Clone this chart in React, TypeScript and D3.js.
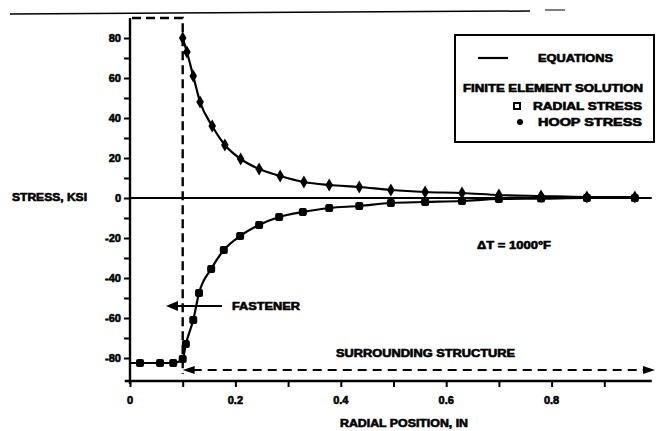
import { useEffect, useRef } from "react";
import * as d3 from "d3";

// finite element solution
const hoopX = [0.1, 0.108, 0.12, 0.133, 0.156, 0.18, 0.21, 0.245, 0.285, 0.33, 0.378, 0.435, 0.495, 0.56, 0.63, 0.7, 0.78, 0.867, 0.958];
const hoopY = [80, 73, 61, 48, 36, 26.5, 19.5, 14.5, 11, 8, 6.5, 5.5, 4, 3, 2.5, 1.5, 1, 0.5, 0.5];
const radialX = [0.019, 0.057, 0.082, 0.1, 0.106, 0.12, 0.131, 0.154, 0.178, 0.209, 0.245, 0.283, 0.328, 0.378, 0.435, 0.495, 0.56, 0.63, 0.7, 0.78, 0.867, 0.958];
const radialY = [-82.5, -82.5, -82.5, -80.5, -73, -61, -47.5, -35.5, -26, -19, -13.5, -9.5, -7, -5, -4, -2.5, -2, -1.5, -0.5, -0.3, 0, 0];
// equation line continues inside the fastener
const radialInnerX = [0];
const radialInnerY = [-82.5];

const yTicks = [-80, -70, -60, -50, -40, -30, -20, -10, 0, 10, 20, 30, 40, 50, 60, 70, 80];
const yLabels = [-80, -60, -40, -20, 0, 20, 40, 60, 80];
const xTicks = [0, 0.1, 0.2, 0.3, 0.4, 0.5, 0.6, 0.7, 0.8, 0.9];
const xLabels = ["0", "0.2", "0.4", "0.6", "0.8"];
const fastenerEdge = 0.1;

const FONT = "'Liberation Sans', Arial, sans-serif";

export default function App() {
  const ref = useRef<SVGSVGElement>(null);

  useEffect(() => {
    const svg = d3.select(ref.current);
    svg.selectAll("*").remove();

    const width = 657;
    const height = 431;

    const x = d3.scaleLinear().domain([0, 1]).range([130, 657]);
    const y = d3.scaleLinear().domain([-91.5, 90]).range([381, 18]);

    const ink = "#000";

    // scan border line at the top
    svg.append("line").attr("x1", 10).attr("y1", 14).attr("x2", 530).attr("y2", 11)
      .attr("stroke", ink).attr("stroke-width", 1.5);
    svg.append("line").attr("x1", 545).attr("y1", 10).attr("x2", 565).attr("y2", 10)
      .attr("stroke", ink).attr("stroke-width", 1);

    // y axis
    const yAxis = svg.append("g").attr("transform", `translate(${x(0)},0)`)
      .call(d3.axisLeft(y).tickValues(yTicks).tickSize(6).tickFormat(() => ""));
    yAxis.select(".domain").attr("d", `M0,${y(90)}V${y(-93)}`).attr("stroke-width", 2.4);
    yAxis.selectAll(".tick line").attr("stroke-width", 2);
    yLabels.forEach((v) => {
      svg.append("text").attr("x", 121).attr("y", y(v)).attr("dy", "0.36em")
        .attr("text-anchor", "end").attr("font-family", FONT).attr("font-weight", "bold")
        .attr("font-size", 11).attr("stroke", ink).attr("stroke-width", 0.6).text(String(v));
    });

    // x axis
    const xAxis = svg.append("g").attr("transform", `translate(0,${y(-91.5)})`)
      .call(d3.axisBottom(x).tickValues(xTicks).tickSize(6).tickFormat(() => ""));
    xAxis.select(".domain").attr("d", `M${x(-0.01)},0H${x(0.99)}`).attr("stroke-width", 2.4);
    xAxis.selectAll(".tick line").attr("stroke-width", 2);
    xLabels.forEach((l) => {
      svg.append("text").attr("x", x(+l)).attr("y", 400).attr("dy", "0.36em")
        .attr("text-anchor", "middle").attr("font-family", FONT).attr("font-weight", "bold")
        .attr("font-size", 11).attr("stroke", ink).attr("stroke-width", 0.6).text(l);
    });

    // zero line
    svg.append("line").attr("x1", x(0)).attr("x2", x(0.99)).attr("y1", y(0)).attr("y2", y(0))
      .attr("stroke", ink).attr("stroke-width", 2.2);

    // fastener dashed boundary
    svg.append("path")
      .attr("d", `M${x(0) + 2},${y(90)}H${x(fastenerEdge)}V${y(-88)}`)
      .attr("fill", "none").attr("stroke", ink).attr("stroke-width", 2.4)
      .attr("stroke-dasharray", "9,5");

    // equation curves
    const line = d3.line<[number, number]>().x((d) => x(d[0])).y((d) => y(d[1]))
      .curve(d3.curveMonotoneX);
    const hoop: [number, number][] = hoopX.map((v, i) => [v, hoopY[i]]);
    const radial: [number, number][] = radialX.map((v, i) => [v, radialY[i]]);
    const radialLine: [number, number][] = [
      ...radialInnerX.map((v, i) => [v, radialInnerY[i]] as [number, number]),
      ...radial,
    ];
    svg.append("path").attr("d", line(hoop)).attr("fill", "none")
      .attr("stroke", ink).attr("stroke-width", 2.2);
    svg.append("path").attr("d", line(radialLine)).attr("fill", "none")
      .attr("stroke", ink).attr("stroke-width", 2.2);

    // markers
    svg.append("g").selectAll("rect").data(radial).join("rect")
      .attr("x", (d) => x(d[0]) - 4).attr("y", (d) => y(d[1]) - 4)
      .attr("width", 8).attr("height", 8).attr("rx", 2).attr("fill", ink);
    svg.append("g").selectAll("path").data(hoop).join("path")
      .attr("d", d3.symbol(d3.symbolDiamond, 50)())
      .attr("transform", (d) => `translate(${x(d[0])},${y(d[1])})`).attr("fill", ink);

    // annotations
    const label = (tx: number, ty: number, s: string, len?: number, anchor = "start") => {
      const t = svg.append("text").attr("x", tx).attr("y", ty).attr("dy", "0.36em")
        .attr("text-anchor", anchor).attr("font-family", FONT).attr("font-weight", "bold")
        .attr("font-size", 10.5).attr("stroke", ink).attr("stroke-width", 0.6).text(s);
      if (len) t.attr("textLength", len).attr("lengthAdjust", "spacingAndGlyphs");
      return t;
    };

    label(12, 197, "STRESS, KSI", 75);
    label(477, 245, "\u0394T = 1000\u00b0F", 74);
    label(232, 306, "FASTENER", 68);
    label(336, 353, "SURROUNDING STRUCTURE", 179);
    label(340, 423, "RADIAL POSITION, IN", 128);

    // FASTENER arrow
    svg.append("line").attr("x1", 222).attr("x2", 172).attr("y1", 306).attr("y2", 306)
      .attr("stroke", ink).attr("stroke-width", 2.2);
    svg.append("path").attr("d", "M166,306L178,301L178,311Z").attr("fill", ink);

    // surrounding structure dashed arrow
    const sy = 370;
    svg.append("line").attr("x1", x(fastenerEdge) + 10).attr("x2", 645).attr("y1", sy).attr("y2", sy)
      .attr("stroke", ink).attr("stroke-width", 2.2).attr("stroke-dasharray", "9,6");
    svg.append("path").attr("d", `M${x(fastenerEdge)},${sy}L${x(fastenerEdge) + 12},${sy - 4}L${x(fastenerEdge) + 12},${sy + 4}Z`)
      .attr("fill", ink);
    svg.append("path").attr("d", `M655,${sy}L643,${sy - 4}L643,${sy + 4}Z`).attr("fill", ink);

    // legend
    svg.append("rect").attr("x", 455).attr("y", 35).attr("width", 199).attr("height", 107)
      .attr("fill", "none").attr("stroke", ink).attr("stroke-width", 2);
    svg.append("line").attr("x1", 478).attr("x2", 508).attr("y1", 58).attr("y2", 58)
      .attr("stroke", ink).attr("stroke-width", 2.2);
    label(538, 58, "EQUATIONS", 75);
    label(463, 88, "FINITE ELEMENT SOLUTION", 180);
    svg.append("rect").attr("x", 514).attr("y", 103).attr("width", 6).attr("height", 6)
      .attr("fill", "#fff").attr("stroke", ink).attr("stroke-width", 2);
    label(533, 106, "RADIAL STRESS", 109);
    svg.append("circle").attr("cx", 520).attr("cy", 122).attr("r", 3).attr("fill", ink);
    label(538, 122, "HOOP STRESS", 104);

    svg.attr("width", width).attr("height", height);
  }, []);

  return (
    <svg
      ref={ref}
      width={657}
      height={431}
      style={{ position: "absolute", left: 0, top: 0, background: "#fff" }}
    />
  );
}
